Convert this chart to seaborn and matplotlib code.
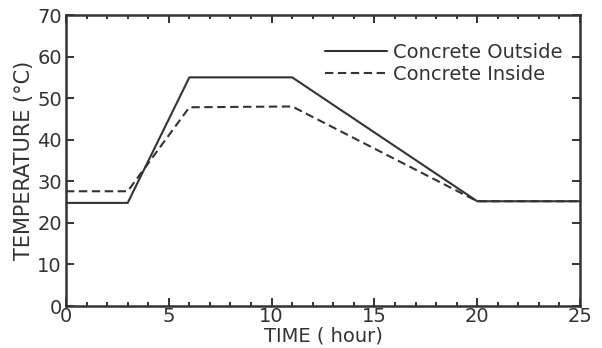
import numpy as np
import pandas as pd
import matplotlib
matplotlib.use("Agg")
import matplotlib.pyplot as plt
from matplotlib.ticker import MultipleLocator
import seaborn as sns

# ─── DATA ───────────────────────────────────────────────────────────────────
time_outside = [0, 3, 6, 11, 20, 25]
temp_outside = [24.8, 24.8, 55.0, 55.0, 25.2, 25.2]
time_inside = [0, 3, 6, 11, 20, 25]
temp_inside = [27.6, 27.6, 47.8, 48.0, 25.2, 25.2]
series_names = ["Concrete Outside", "Concrete Inside"]

df = pd.concat([
    pd.DataFrame({"time": time_outside, "temp": temp_outside, "series": series_names[0]}),
    pd.DataFrame({"time": time_inside, "temp": temp_inside, "series": series_names[1]}),
])

# ─── STYLE ──────────────────────────────────────────────────────────────────
sns.set_theme(style="ticks")
plt.rcParams["font.family"] = ["DejaVu Sans"]
INK = "#333333"

fig = plt.figure(figsize=(6.02, 3.48), dpi=100)
ax = fig.add_axes([66 / 602, 1 - 306 / 348, (580 - 66) / 602, (306 - 15) / 348])

sns.lineplot(data=df, x="time", y="temp", style="series", color=INK,
             dashes={series_names[0]: "", series_names[1]: (4, 2.2)},
             linewidth=1.5, sort=False, ax=ax, legend=True)

ax.set_xlim(0, 25)
ax.set_ylim(0, 70)
ax.xaxis.set_major_locator(MultipleLocator(5))
ax.xaxis.set_minor_locator(MultipleLocator(1))
ax.yaxis.set_major_locator(MultipleLocator(10))
ax.tick_params(which="both", direction="in", top=True, right=True,
               color=INK, labelcolor=INK, width=1.4)
ax.tick_params(which="major", length=6)
ax.tick_params(which="minor", length=3)
ax.tick_params(axis="x", labelsize=14, pad=1)
ax.tick_params(axis="y", labelsize=14, pad=3)
for s in ax.spines.values():
    s.set_color(INK)
    s.set_linewidth(1.8)

ax.set_xlabel("TIME ( hour)", fontsize=14, color=INK, labelpad=0)
ax.set_ylabel("TEMPERATURE (°C)", fontsize=15, color=INK, labelpad=2)

leg = ax.legend(loc="upper right", bbox_to_anchor=(1.015, 0.99), frameon=False,
                fontsize=14, handlelength=3.2, handletextpad=0.3,
                labelspacing=0.15, borderaxespad=0.9, labelcolor=INK)
for line in leg.get_lines():
    line.set_color(INK)

fig.savefig("out.png", dpi=100)
